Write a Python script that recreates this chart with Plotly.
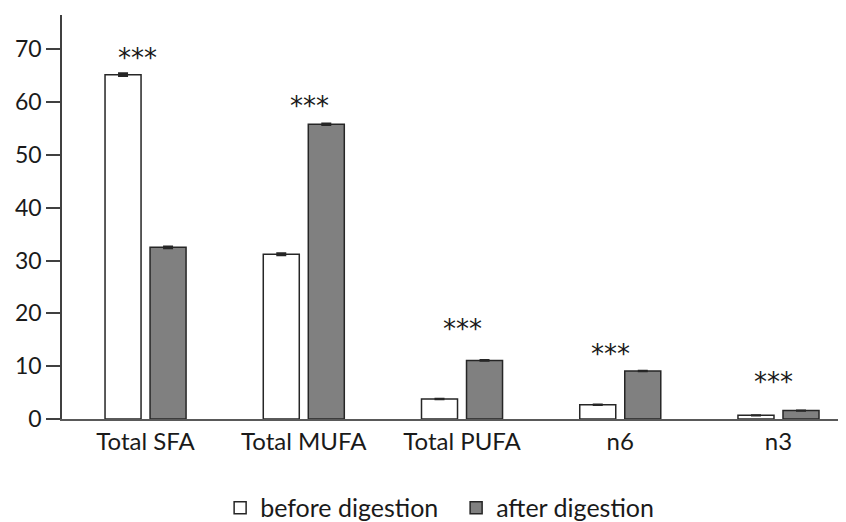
import plotly.graph_objects as go

categories = ["Total SFA", "Total MUFA", "Total PUFA", "n6", "n3"]
before_vals = [65.2, 31.2, 3.8, 2.7, 0.7]
after_vals = [32.5, 55.8, 11.1, 9.1, 1.6]
before_err = [0.25, 0.2, 0.05, 0.05, 0.03]
after_err = [0.15, 0.15, 0.05, 0.05, 0.03]
star_y = [68.3, 59.3, 17.0, 12.4, 7.1]
star_text = ["***", "***", "***", "***", "***"]
y_ticks = [0, 10, 20, 30, 40, 50, 60, 70]

STAR_SHIFT = [-8, 6, 0, -10, -5]
FONT = "Lato"

fig = go.Figure()
fig.add_trace(go.Bar(
    x=categories, y=before_vals, name="before digestion",
    marker=dict(color="white", line=dict(color="#262626", width=1.5)),
    error_y=dict(type="data", array=before_err, color="#262626", thickness=2, width=5),
))
fig.add_trace(go.Bar(
    x=categories, y=after_vals, name="after digestion",
    marker=dict(color="#808080", line=dict(color="#262626", width=1.5)),
    error_y=dict(type="data", array=after_err, color="#262626", thickness=2, width=5),
))

for c, yv, t, dx in zip(categories, star_y, star_text, STAR_SHIFT):
    fig.add_annotation(x=c, y=yv, text=t, showarrow=False, yanchor="middle", xshift=dx,
                       font=dict(family="DejaVu Sans", size=26, color="#1a1a1a"))

fig.update_layout(
    width=838, height=514,
    margin=dict(l=54, r=2, t=7, b=103, autoexpand=False),
    paper_bgcolor="white", plot_bgcolor="white",
    barmode="group", bargap=0.431, bargroupgap=0.2,
    font=dict(family=FONT, size=24, color="#1a1a1a"),
    showlegend=True,
    legend=dict(orientation="h", x=0.504, xanchor="center", y=-0.22, yanchor="middle",
                font=dict(family=FONT, size=25, color="#1a1a1a"), itemwidth=30,
                entrywidth=191, traceorder="normal"),
)
fig.update_xaxes(showline=True, linecolor="#595959", linewidth=1.5, automargin=False,
                 range=[-0.528, 4.414],
                 ticks="", showgrid=False, tickfont=dict(size=24))
fig.update_yaxes(range=[0, 76.5], tickvals=y_ticks, showline=True, linecolor="#404040",
                 linewidth=1.5, ticks="outside", ticklen=14, tickcolor="#404040",
                 automargin=False,
                 tickwidth=1.5, showgrid=False, zeroline=False, tickfont=dict(size=23))

fig.write_html("out.html")
